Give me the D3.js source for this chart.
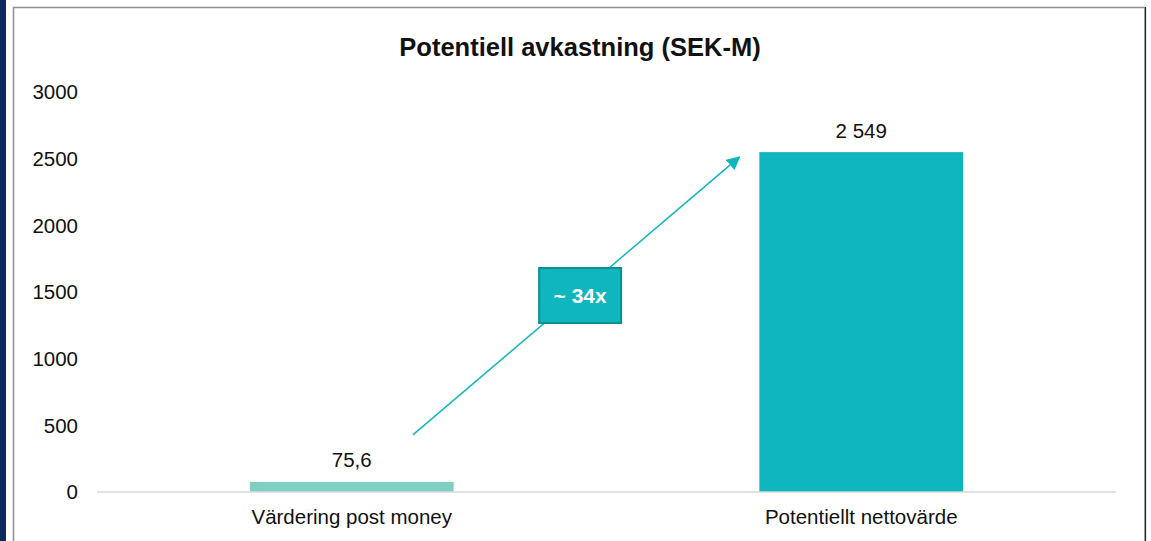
<!DOCTYPE html>
<html>
<head>
<meta charset="utf-8">
<script src="https://cdn.jsdelivr.net/npm/d3@7"></script>
<style>
  body { margin: 0; background: #fff; }
  text { font-family: "Liberation Sans", Arial, sans-serif; }
</style>
</head>
<body>
<div id="wrapper"></div>
<script>
const title = "Potentiell avkastning (SEK-M)"
const categories = ["Värdering post money", "Potentiellt nettovärde"]
const values = [75.6, 2549]
const valueLabels = ["75,6", "2 549"]
const barColors = ["#7fcfc3", "#10b6be"]
const yTicks = [0, 500, 1000, 1500, 2000, 2500, 3000]
const multipleLabel = "~ 34x"

function build_chart() {
    var dimension = {
        width: 1151,
        height: 541,
        margin: { top: 92, left: 97, right: 35, bottom: 49 }
    }
    dimension.boundedWidth = dimension.width - dimension.margin.left - dimension.margin.right
    dimension.boundedHeight = dimension.height - dimension.margin.top - dimension.margin.bottom

    const wrapper = d3.select("#wrapper")
        .append("svg")
        .attr("width", dimension.width)
        .attr("height", dimension.height)

    // navy strip on the left
    wrapper.append("rect")
        .attr("x", 0).attr("y", 0)
        .attr("width", 6).attr("height", dimension.height)
        .attr("fill", "#0d2a5e")

    // frame
    wrapper.append("rect")
        .attr("x", 13.5).attr("y", 7.5)
        .attr("width", 1131.5).attr("height", 560)
        .attr("fill", "#fff")
        .attr("stroke", "#8f8f8f")
        .attr("stroke-width", 1.5)
    wrapper.append("line")
        .attr("x1", 1145.5).attr("x2", 1145.5)
        .attr("y1", 7).attr("y2", dimension.height)
        .attr("stroke", "#222").attr("stroke-width", 1.2)

    wrapper.append("text")
        .attr("x", 580).attr("y", 56)
        .attr("text-anchor", "middle")
        .style("font-size", "25.5px")
        .style("font-weight", "bold")
        .attr("fill", "#111")
        .text(title)

    const bounds = wrapper.append("g")
        .attr("transform", `translate(${dimension.margin.left},${dimension.margin.top})`)

    const x = d3.scaleBand()
        .domain(categories)
        .range([0, dimension.boundedWidth])
        .paddingInner(0.6)
        .paddingOuter(0.3)

    const y = d3.scaleLinear()
        .domain([0, 3000])
        .range([dimension.boundedHeight, 0])

    // y tick labels
    bounds.append("g")
        .selectAll("text")
        .data(yTicks)
        .enter()
        .append("text")
        .attr("x", -19)
        .attr("y", d => y(d))
        .attr("dy", "0.35em")
        .attr("text-anchor", "end")
        .style("font-size", "20.5px")
        .attr("fill", "#111")
        .text(d => d)

    // bars
    bounds.selectAll("rect.bar")
        .data(values)
        .enter()
        .append("rect")
        .attr("class", "bar")
        .attr("x", (d, i) => x(categories[i]))
        .attr("y", d => y(d))
        .attr("width", x.bandwidth())
        .attr("height", d => y(0) - y(d))
        .attr("fill", (d, i) => barColors[i])

    // baseline
    bounds.append("line")
        .attr("x1", 0).attr("x2", dimension.boundedWidth)
        .attr("y1", y(0)).attr("y2", y(0))
        .attr("stroke", "#d9d9d9").attr("stroke-width", 1.5)

    // value labels
    bounds.selectAll("text.val")
        .data(values)
        .enter()
        .append("text")
        .attr("class", "val")
        .attr("x", (d, i) => x(categories[i]) + x.bandwidth() / 2)
        .attr("y", d => y(d) - 14.5)
        .attr("text-anchor", "middle")
        .style("font-size", "20.5px")
        .attr("fill", "#111")
        .text((d, i) => valueLabels[i])

    // category labels
    bounds.selectAll("text.cat")
        .data(categories)
        .enter()
        .append("text")
        .attr("class", "cat")
        .attr("x", d => x(d) + x.bandwidth() / 2)
        .attr("y", y(0) + 32)
        .attr("text-anchor", "middle")
        .style("font-size", "20.5px")
        .attr("fill", "#111")
        .text(d => d)

    // growth arrow
    const defs = wrapper.append("defs")
    defs.append("marker")
        .attr("id", "arrow")
        .attr("viewBox", "0 0 10 10")
        .attr("refX", 9).attr("refY", 5)
        .attr("markerWidth", 9).attr("markerHeight", 9)
        .attr("orient", "auto")
        .append("path")
        .attr("d", "M0,0 L10,5 L0,10 Z")
        .attr("fill", "#10b6be")

    const ax1 = x(categories[0]) + x.bandwidth() * 0.8
    const ay1 = y(values[0]) - 47
    const ax2 = x(categories[1]) - 20
    const ay2 = y(values[1]) + 5
    bounds.append("line")
        .attr("x1", ax1).attr("y1", ay1)
        .attr("x2", ax2).attr("y2", ay2)
        .attr("stroke", "#10b6be")
        .attr("stroke-width", 1.5)
        .attr("marker-end", "url(#arrow)")

    // multiple box
    const bx = (ax1 + ax2) / 2 + 4
    const by = (ay1 + ay2) / 2 - 1
    bounds.append("rect")
        .attr("x", bx - 41).attr("y", by - 27)
        .attr("width", 82).attr("height", 55)
        .attr("fill", "#10b6be")
        .attr("stroke", "#0c8f8f")
        .attr("stroke-width", 2)
    bounds.append("text")
        .attr("x", bx).attr("y", by + 1)
        .attr("dy", "0.35em")
        .attr("text-anchor", "middle")
        .style("font-size", "21px")
        .style("font-weight", "bold")
        .attr("fill", "#fff")
        .text(multipleLabel)
}

build_chart()
</script>
</body>
</html>
